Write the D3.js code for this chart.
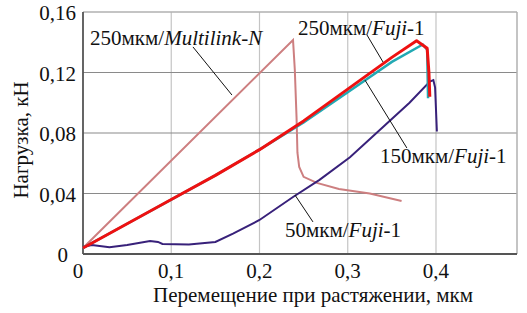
<!DOCTYPE html>
<html>
<head>
<meta charset="utf-8">
<script src="https://cdn.jsdelivr.net/npm/d3@7"></script>
</head>
<body style="margin:0">
<svg id="fig" width="527" height="313"></svg>
<script>
// data: [displacement, load]
var multilink250 = [[0, 0.004], [0.238, 0.1415], [0.240, 0.122], [0.242, 0.09], [0.243, 0.067],
  [0.245, 0.0575], [0.250, 0.051], [0.265, 0.047], [0.29, 0.043], [0.325, 0.040], [0.361, 0.035]];
var fuji250 = [[0, 0.004], [0.05, 0.02], [0.1, 0.036], [0.15, 0.052], [0.2, 0.069], [0.25, 0.088],
  [0.3, 0.109], [0.35, 0.130], [0.378, 0.141], [0.39, 0.136], [0.392, 0.12], [0.393, 0.104]];
var fuji150 = [[0, 0.004], [0.05, 0.02], [0.1, 0.036], [0.15, 0.052], [0.2, 0.069], [0.25, 0.087],
  [0.3, 0.107], [0.35, 0.127], [0.385, 0.1385], [0.39, 0.135], [0.391, 0.103]];
var fuji50 = [[0, 0.0046], [0.01, 0.006], [0.03, 0.0045], [0.05, 0.006], [0.076, 0.0086], [0.085, 0.008],
  [0.09, 0.0066], [0.12, 0.0063], [0.15, 0.008], [0.17, 0.0135], [0.2, 0.0225], [0.238, 0.0377],
  [0.268, 0.049], [0.3025, 0.064], [0.34, 0.084], [0.37, 0.1], [0.393, 0.114], [0.397, 0.115],
  [0.399, 0.11], [0.401, 0.081]];

var xTicks = [0, 0.1, 0.2, 0.3, 0.4];
var yTicks = [0, 0.04, 0.08, 0.12, 0.16];

// annotations: text, text anchor point, leader line from/to (data units)
var notes = [
  { pre: "250мкм/", it: "Multilink-N", post: "", at: [0.008, 0.138], line: [[0.1246, 0.1369], [0.1688, 0.1051]] },
  { pre: "250мкм/", it: "Fuji", post: "-1", at: [0.2436, 0.1448], line: [[0.3218, 0.1448], [0.34, 0.1269]] },
  { pre: "150мкм/", it: "Fuji", post: "-1", at: [0.3365, 0.0602], line: [[0.3195, 0.115], [0.367, 0.0701]] },
  { pre: "50мкм/", it: "Fuji", post: "-1", at: [0.2289, 0.0112], line: [[0.2402, 0.039], [0.2606, 0.0212]] }
];

// inline style so nothing else overrides the serif face
var TXT = "font-family: 'Liberation Serif', 'Times New Roman', Tinos, serif !important; font-size: 21px; fill: #111";

var svg = d3.select("#fig");
var margin = { top: 12, right: 10, bottom: 59, left: 83 };
var width = 527 - margin.left - margin.right;
var height = 313 - margin.top - margin.bottom;

var x = d3.scaleLinear().domain([0, 0.4918]).range([0, width]);
var y = d3.scaleLinear().domain([0, 0.16]).range([height, 0]);

var g = svg.append("g").attr("transform", "translate(" + margin.left + "," + margin.top + ")");

// grid
g.selectAll("line.vgrid")
  .data(xTicks.slice(1))
  .enter().append("line")
  .attr("x1", d => x(d)).attr("x2", d => x(d))
  .attr("y1", 0).attr("y2", height)
  .attr("stroke", "#c4c4c4").attr("stroke-width", 1.2);

g.selectAll("line.hgrid")
  .data(yTicks.slice(1, -1))
  .enter().append("line")
  .attr("x1", 0).attr("x2", width)
  .attr("y1", d => y(d)).attr("y2", d => y(d))
  .attr("stroke", "#8a8a8a").attr("stroke-width", 1.2);

// frame
g.append("line").attr("x1", 0).attr("x2", width).attr("y1", 0).attr("y2", 0)
  .attr("stroke", "#b0b0b0").attr("stroke-width", 1.5);
g.append("line").attr("x1", width).attr("x2", width).attr("y1", 0).attr("y2", height)
  .attr("stroke", "#b0b0b0").attr("stroke-width", 1.5);
g.append("line").attr("x1", 0).attr("x2", 0).attr("y1", 0).attr("y2", height)
  .attr("stroke", "#555").attr("stroke-width", 1.8);
g.append("line").attr("x1", 0).attr("x2", width).attr("y1", height).attr("y2", height)
  .attr("stroke", "#555").attr("stroke-width", 1.8);

// tick labels
g.selectAll("text.ytick")
  .data(yTicks)
  .enter().append("text")
  .attr("style", TXT)
  .attr("x", d => d === 0 ? -15 : -7)
  .attr("y", d => y(d) + 8)
  .attr("text-anchor", "end")
  .text(d => d === 0 ? "0" : d3.format(".2f")(d).replace(".", ","));

g.selectAll("text.xtick")
  .data(xTicks)
  .enter().append("text")
  .attr("style", TXT)
  .attr("x", d => d === 0 ? x(d) - 5 : x(d))
  .attr("y", height + 24)
  .attr("text-anchor", "middle")
  .text(d => d === 0 ? "0" : d3.format(".1f")(d).replace(".", ","));

// axis titles
svg.append("text")
  .attr("style", TXT)
  .attr("x", 313).attr("y", 302)
  .attr("text-anchor", "middle")
  .text("Перемещение при растяжении, мкм");

svg.append("text")
  .attr("style", TXT)
  .attr("transform", "translate(28,140) rotate(-90)")
  .attr("text-anchor", "middle")
  .text("Нагрузка, кН");

// curves
var lineLin = d3.line().x(d => x(d[0])).y(d => y(d[1]));

g.append("path").datum(multilink250).attr("d", lineLin)
  .attr("fill", "none").attr("stroke", "#cd7f80").attr("stroke-width", 2);
g.append("path").datum(fuji50).attr("d", lineLin)
  .attr("fill", "none").attr("stroke", "#38217a").attr("stroke-width", 2);
g.append("path").datum(fuji150).attr("d", lineLin)
  .attr("fill", "none").attr("stroke", "#22a9b3").attr("stroke-width", 2.5);
g.append("path").datum(fuji250).attr("d", lineLin)
  .attr("fill", "none").attr("stroke", "#ee1111").attr("stroke-width", 3)
  .attr("stroke-linejoin", "round");

// annotations
notes.forEach(function(n) {
  g.append("line")
    .attr("x1", x(n.line[0][0])).attr("y1", y(n.line[0][1]))
    .attr("x2", x(n.line[1][0])).attr("y2", y(n.line[1][1]))
    .attr("stroke", "#111").attr("stroke-width", 1);
  var t = g.append("text")
    .attr("style", TXT)
    .attr("x", x(n.at[0])).attr("y", y(n.at[1]));
  t.append("tspan").text(n.pre);
  t.append("tspan").attr("style", "font-style: italic").text(n.it);
  t.append("tspan").text(n.post);
});
</script>
</body>
</html>
